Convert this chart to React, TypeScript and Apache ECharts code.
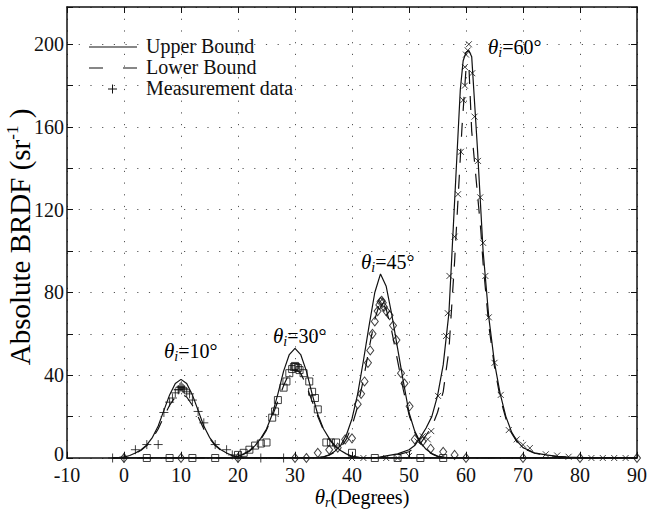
import React, { useEffect, useRef } from 'react';
import * as echarts from 'echarts';

const FONT = "'Liberation Serif', 'Times New Roman', Times, serif";

// x-axis and y-axis setup values
const xRange = [-10, 90];
const yRange = [0, 218];
const yLabelValues = [0, 40, 80, 120, 160, 200];

// Upper / lower bound curves  [theta_r, BRDF]
const upper10 = [[-2,0],[0,0.4],[1,1.2],[2,2.4],[3,4],[4,6.3],[5,10],[6,15.5],[7,23],[8,30.5],[9,36],[10,38],[11,36],[12,30.5],[13,23],[14,15.5],[15,10],[16,6.3],[17,4],[18,2.4],[19,1.2],[20,0.4],[22,0],[90,0]];
const lower10 = [[-2,0],[0,0.4],[1,1.1],[2,2.2],[3,3.7],[4,6],[5,9.5],[6,14],[7,20],[8,25.5],[9,29.5],[10,31],[11,29.5],[12,25.5],[13,20],[14,14],[15,9.5],[16,6],[17,3.7],[18,2.2],[19,1.1],[20,0.4],[22,0],[90,0]];
const upper30 = [[-2,0],[18,0],[20,0.8],[21,2],[22,3.6],[23,6],[24,9.5],[25,14],[26,21],[27,31],[28,42],[29,50],[30,53],[31,50],[32,42],[33,31],[34,21],[35,14],[36,9.5],[37,6],[38,3.6],[39,2],[40,0.8],[42,0],[90,0]];
const lower30 = [[-2,0],[18,0],[20,0.7],[21,1.8],[22,3.3],[23,5.6],[24,9],[25,13.5],[26,20],[27,27.5],[28,35],[29,41],[30,43],[31,41],[32,35],[33,27.5],[34,20],[35,13.5],[36,9],[37,5.6],[38,3.3],[39,1.8],[40,0.7],[42,0],[90,0]];
const upper45 = [[-2,0],[33,0],[35,0.6],[36,1.6],[37,3.3],[38,6],[39,11],[40,19],[41,31],[42,47],[43,64],[44,80],[45,89],[46,83],[47,69],[48,53],[49,37],[50,22],[51,13],[52,7.5],[53,4.2],[54,2.2],[55,0.9],[57,0],[90,0]];
const lower45 = [[-2,0],[33,0],[35,0.5],[36,1.4],[37,2.8],[38,5],[39,9],[40,15.5],[41,25],[42,38],[43,53],[44,67],[45,76],[46,72],[47,61],[48,47],[49,33],[50,21],[51,12.5],[52,7],[53,3.8],[54,2],[55,0.8],[57,0],[90,0]];
const upper60 = [[-2,0],[44,0],[46,1],[48,2],[50,4],[51,6],[52,10],[53,14.5],[54,20],[55,30],[56,45],[57,70],[58,124],[59,178],[59.5,192],[60,196],[60.5,197],[61,194],[62,150],[63,100],[64,68],[65,46],[66,31],[67,20],[68,12.5],[69,8],[70,5],[72,2.5],[74,1.5],[76,0.8],[78,0.4],[80,0.2],[82,0],[90,0]];
const lower60 = [[-2,0],[44,0],[46,0.5],[48,1.5],[50,3],[52,7],[54,15],[55,22],[56,32],[57,52],[58,95],[58.8,135],[59.3,160],[60,188],[60.5,190],[61,158],[62,128],[62.6,110],[63,94],[64,64],[65,44],[66,29],[67,19],[68,12],[69,7.5],[70,4.8],[72,2.3],[74,1.3],[76,0.7],[78,0.3],[80,0.1],[82,0],[90,0]];

// Measurement data
const meas10 = [[-2,0],[0,0],[2,4],[4,6.5],[6,6.5],[7,22],[8,27],[8.5,29],[9,31.5],[9.5,33],[9.6,33],[9.8,34],[10,34.5],[10.2,34],[10.4,33.5],[10.6,33],[11,32],[11.5,31],[12,28],[13,22.5],[14,17],[16,6.5],[18,4],[19,1.5],[20,0],[24,0],[28,0]];
const meas30 = [[4,0],[8,0],[12,0],[16,0],[20,1.5],[21,2.5],[22,4],[23,6],[24,7],[25,7.5],[26,19.5],[26.5,22.5],[27,28],[28,34],[28.5,37],[29,41],[29.5,43],[29.8,44],[30,44.5],[30.2,44],[30.5,43.5],[30.8,42.5],[31.5,41],[32.5,37],[33,32],[33.5,29],[34,23.5],[35.5,7.5],[36.3,7.5],[37.2,7.5],[40,2.5],[44,0],[48,0],[52,0],[56,0]];
const meas45 = [[0,0],[10,0],[20,0],[30,0],[32,0],[34,2.5],[36,4],[37.5,5],[38.8,9],[40,9.5],[41,26],[41.6,31],[42.2,37],[42.8,46],[43.2,52],[43.6,60],[44,66],[44.5,71],[44.8,74],[45,75.5],[45.2,76],[45.4,75],[45.6,73],[46,71],[46.6,69],[47.2,64],[47.8,57],[48.6,41],[49.2,36],[50.1,25],[51,9],[52.4,8],[53.8,4.5],[56,3],[58,1.5],[60,0],[70,0],[80,0],[90,0]];
const meas60 = [[40,0],[42,0],[46,0],[48,0],[50,1],[51.5,8],[52.4,10.5],[53.3,9],[53.9,13],[55.1,30],[56.5,59],[56.8,70],[57.1,88],[58,107],[58.6,127.5],[59.1,148],[59.5,173],[59.8,180],[59.8,189],[60,195],[60.3,197],[60.5,200],[61.1,186],[61.5,165],[62.1,143.6],[62.5,126],[63,104],[63.4,88],[64,68],[65,46],[66.1,30.5],[67.5,13.5],[68.9,9],[70,6.4],[71.2,4.8],[74,1.8],[76,1.2],[78,0.6],[82,0],[84,0],[86,0],[88,0]];

// Legend entries
const legendNames = ['Upper Bound', 'Lower Bound', 'Measurement data'];

// Peak annotations
const peakLabels = [
  { text: '=10°', x: 164, y: 351 },
  { text: '=30°', x: 273, y: 336 },
  { text: '=45°', x: 361, y: 262 },
  { text: '=60°', x: 488, y: 47 },
];

const INK = '#111';

const richTheta = {
  t: { fontFamily: FONT, fontStyle: 'italic', fontSize: 21, lineHeight: 24, color: INK, verticalAlign: 'middle' },
  s: { fontFamily: FONT, fontStyle: 'italic', fontSize: 14, lineHeight: 14, color: INK, verticalAlign: 'bottom' },
  n: { fontFamily: FONT, fontSize: 20, lineHeight: 24, color: INK, verticalAlign: 'middle' },
};

export default function App() {
  const ref = useRef<HTMLDivElement>(null);
  useEffect(() => {
    document.body.style.margin = '0';
    const chart = echarts.init(ref.current!, null, { renderer: 'svg' });

    const line = (name: string, data: number[][], dashed: boolean) => ({
      type: 'line', name, data, symbol: 'none', showSymbol: false, silent: true,
      lineStyle: { color: INK, width: 1.2, type: dashed ? [14, 12] : 'solid' },
      itemStyle: { color: INK }, z: 3,
    });
    const scatter = (name: string, data: number[][], symbol: string, size: any) => ({
      type: 'scatter', name, data, symbol, symbolSize: size, silent: true,
      itemStyle: { color: 'none', borderColor: INK, borderWidth: 1 }, z: 4,
    });

    const PLUS = 'path://M5,0L5,10M0,5L10,5';
    const CROSS = 'path://M0,0L10,10M10,0L0,10';
    const SQUARE = 'path://M0,0L10,0L10,10L0,10Z';
    const DIAMOND = 'path://M4,0L8,5L4,10L0,5Z';

    const axisCommon = { type: 'value', min: xRange[0], max: xRange[1], interval: 10 };
    const frameLine = { show: true, onZero: false, lineStyle: { color: INK, width: 1.5 } };
    const tick = { show: true, inside: true, length: 6, lineStyle: { color: INK } };
    const grid = { show: true, lineStyle: { color: '#555', width: 1, type: [1.2, 10.5] } };

    const lx0 = 89, lx1 = 137, ltx = 146;
    const ly = [47, 68, 89];

    chart.setOption({
      animation: false,
      backgroundColor: '#fff',
      grid: { left: 67, right: 10, top: 7, bottom: 61, containLabel: false, outerBoundsMode: 'none' },
      xAxis: [
        {
          ...axisCommon, position: 'bottom', axisLine: frameLine, axisTick: tick,
          axisLabel: { fontFamily: FONT, fontSize: 20, lineHeight: 16, color: INK, margin: 9, showMinLabel: true, showMaxLabel: true },
          splitLine: grid,
        },
        {
          ...axisCommon, position: 'top', axisLine: frameLine, axisTick: tick,
          axisLabel: { show: false }, splitLine: { show: false },
        },
      ],
      yAxis: [
        {
          type: 'value', min: yRange[0], max: yRange[1], interval: 20, position: 'left',
          axisLine: frameLine, axisTick: tick,
          axisLabel: {
            fontFamily: FONT, fontSize: 20, lineHeight: 16, color: INK, margin: 3,
            formatter: (v: number) => (v === 0 ? '{z|0}' : yLabelValues.includes(v) ? String(v) : ''),
            rich: { z: { fontFamily: FONT, fontSize: 20, lineHeight: 16, color: INK, padding: [0, 0, 9, 0] } },
          },
          splitLine: grid,
        },
        {
          type: 'value', min: yRange[0], max: yRange[1], interval: 20, position: 'right',
          axisLine: frameLine, axisTick: tick,
          axisLabel: { show: false }, splitLine: { show: false },
        },
      ],
      series: [
        line(legendNames[0], upper10, false),
        line(legendNames[1], lower10, true),
        line(legendNames[0], upper30, false),
        line(legendNames[1], lower30, true),
        line(legendNames[0], upper45, false),
        line(legendNames[1], lower45, true),
        line(legendNames[0], upper60, false),
        line(legendNames[1], lower60, true),
        scatter(legendNames[2], meas10, PLUS, 9),
        scatter('meas30', meas30, SQUARE, 7),
        scatter('meas45', meas45, DIAMOND, [7, 9]),
        scatter('meas60', meas60, CROSS, 6),
      ],
      graphic: [
        // legend
        { type: 'line', shape: { x1: lx0, y1: ly[0], x2: lx1, y2: ly[0] }, style: { stroke: INK, lineWidth: 1.2 }, z: 10 },
        { type: 'line', shape: { x1: lx0, y1: ly[1], x2: lx1, y2: ly[1] }, style: { stroke: INK, lineWidth: 1.2, lineDash: [14, 20] }, z: 10 },
        { type: 'line', shape: { x1: 108, y1: ly[2], x2: 117, y2: ly[2] }, style: { stroke: INK, lineWidth: 1 }, z: 10 },
        { type: 'line', shape: { x1: 112.5, y1: ly[2] - 4.5, x2: 112.5, y2: ly[2] + 4.5 }, style: { stroke: INK, lineWidth: 1 }, z: 10 },
        ...legendNames.map((n, i) => ({
          type: 'text', x: ltx, y: ly[i] - 1, z: 10,
          style: { text: n, fontFamily: FONT, fontSize: 20, fill: INK, align: 'left', verticalAlign: 'middle' },
        })),
        // peak labels
        ...peakLabels.map((p) => ({
          type: 'text', x: p.x, y: p.y, z: 10,
          style: { text: `{t|θ}{s|i}{n|${p.text}}`, rich: richTheta, align: 'left', verticalAlign: 'middle' },
        })),
        {
          type: 'text', x: 362, y: 497, z: 10,
          style: { text: '{t|θ}{s|r}{n|(Degrees)}', rich: richTheta, align: 'center', verticalAlign: 'middle' },
        },
        {
          type: 'text', x: 20, y: 237, rotation: Math.PI / 2, z: 10,
          style: {
            text: '{a|Absolute BRDF (sr}{p|-1}{a| )}',
            rich: {
              a: { fontFamily: FONT, fontSize: 29, lineHeight: 32, color: INK, verticalAlign: 'middle' },
              p: { fontFamily: FONT, fontSize: 17, lineHeight: 17, color: INK, verticalAlign: 'top' },
            },
            align: 'center', verticalAlign: 'middle',
          },
        },
      ],
    });
    return () => chart.dispose();
  }, []);
  return <div ref={ref} style={{ width: 647, height: 519 }} />;
}
